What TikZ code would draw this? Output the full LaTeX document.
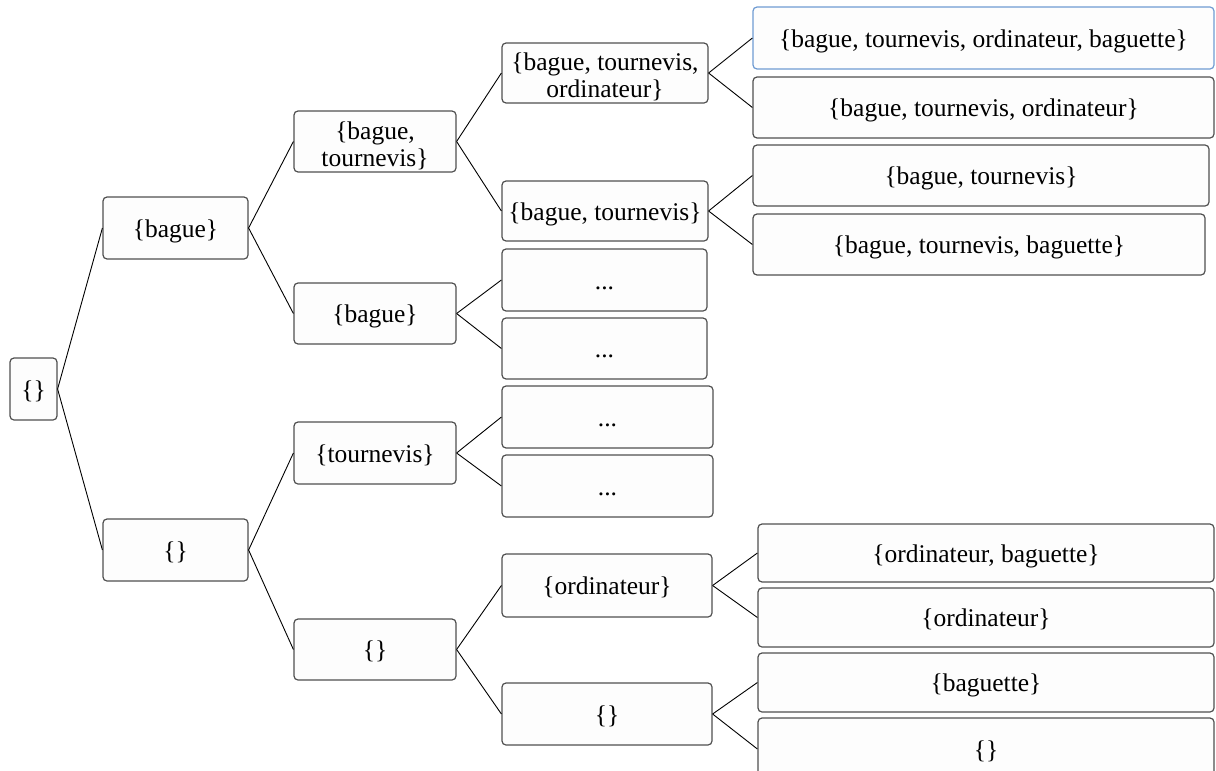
\documentclass[tikz,border=0pt]{standalone}
\usepackage{fontspec}
\setmainfont{Liberation Serif}
\definecolor{boxline}{HTML}{505050}
\definecolor{boxfill}{HTML}{FDFDFD}
\definecolor{blueline}{HTML}{6F9BD2}
\begin{document}
\begin{tikzpicture}[x=1pt,y=-1pt,
  box/.style={draw=boxline,fill=boxfill,line width=1.2pt,rounded corners=4pt,inner sep=0pt,align=center,
    font=\fontsize{25.5}{27}\selectfont},
  one/.style={box,text height=21pt,text depth=3pt},
  link/.style={black,line width=0.9pt}]
\useasboundingbox (0,0) rectangle (1216,771);
\clip (0,0) rectangle (1216,771);
% root
\node[one,minimum width=47pt,minimum height=62pt] (r) at (33.5,389) {\{\}};
% level 1
\node[one,minimum width=145pt,minimum height=62pt] (a1) at (175.5,228) {\{bague\}};
\node[one,minimum width=145pt,minimum height=62pt] (a2) at (175.5,550) {\{\}};
% level 2
\node[box,minimum width=162pt,minimum height=61pt] (b1) at (375,141.5) {\rule{0pt}{27pt}\{bague,\\tournevis\}};
\node[one,minimum width=162pt,minimum height=61pt] (b2) at (375,313.5) {\{bague\}};
\node[one,minimum width=162pt,minimum height=62pt] (b3) at (375,453) {\{tournevis\}};
\node[one,minimum width=162pt,minimum height=61pt] (b4) at (375,649.5) {\{\}};
% level 3
\node[box,minimum width=206pt,minimum height=60pt] (c1) at (605,73) {\rule{0pt}{26pt}\{bague, tournevis,\\ordinateur\}};
\node[one,minimum width=206pt,minimum height=60pt] (c2) at (605,211) {\{bague, tournevis\}};
\node[one,minimum width=205pt,minimum height=62pt] (c3) at (604.5,280) {...};
\node[one,minimum width=205pt,minimum height=61pt] (c4) at (604.5,348.5) {...};
\node[one,minimum width=211pt,minimum height=62pt] (c5) at (607.5,417) {...};
\node[one,minimum width=211pt,minimum height=62pt] (c6) at (607.5,486) {...};
\node[one,minimum width=210pt,minimum height=63pt] (c7) at (607,585.5) {\{ordinateur\}};
\node[one,minimum width=210pt,minimum height=62pt] (c8) at (607,714) {\{\}};
% level 4
\node[one,draw=blueline,minimum width=461pt,minimum height=62pt] (d1) at (983.5,38) {\{bague, tournevis, ordinateur, baguette\}};
\node[one,minimum width=461pt,minimum height=61pt] (d2) at (983.5,107.5) {\{bague, tournevis, ordinateur\}};
\node[one,minimum width=456pt,minimum height=61pt] (d3) at (981,175.5) {\{bague, tournevis\}};
\node[one,minimum width=452pt,minimum height=61pt] (d4) at (979,244.5) {\{bague, tournevis, baguette\}};
\node[one,minimum width=456pt,minimum height=58pt] (d5) at (986,553) {\{ordinateur, baguette\}};
\node[one,minimum width=456pt,minimum height=59pt] (d6) at (986,617.5) {\{ordinateur\}};
\node[one,minimum width=456pt,minimum height=59pt] (d7) at (986,682.5) {\{baguette\}};
\node[one,minimum width=456pt,minimum height=62pt] (d8) at (986,749) {\{\}};
% connectors
\draw[link] (r.east) -- (a1.west);
\draw[link] (r.east) -- (a2.west);
\draw[link] (a1.east) -- (b1.west);
\draw[link] (a1.east) -- (b2.west);
\draw[link] (a2.east) -- (b3.west);
\draw[link] (a2.east) -- (b4.west);
\draw[link] (b1.east) -- (c1.west);
\draw[link] (b1.east) -- (c2.west);
\draw[link] (b2.east) -- (c3.west);
\draw[link] (b2.east) -- (c4.west);
\draw[link] (b3.east) -- (c5.west);
\draw[link] (b3.east) -- (c6.west);
\draw[link] (b4.east) -- (c7.west);
\draw[link] (b4.east) -- (c8.west);
\draw[link] (c1.east) -- (d1.west);
\draw[link] (c1.east) -- (d2.west);
\draw[link] (c2.east) -- (d3.west);
\draw[link] (c2.east) -- (d4.west);
\draw[link] (c7.east) -- (d5.west);
\draw[link] (c7.east) -- (d6.west);
\draw[link] (c8.east) -- (d7.west);
\draw[link] (c8.east) -- (d8.west);
\end{tikzpicture}
\end{document}
